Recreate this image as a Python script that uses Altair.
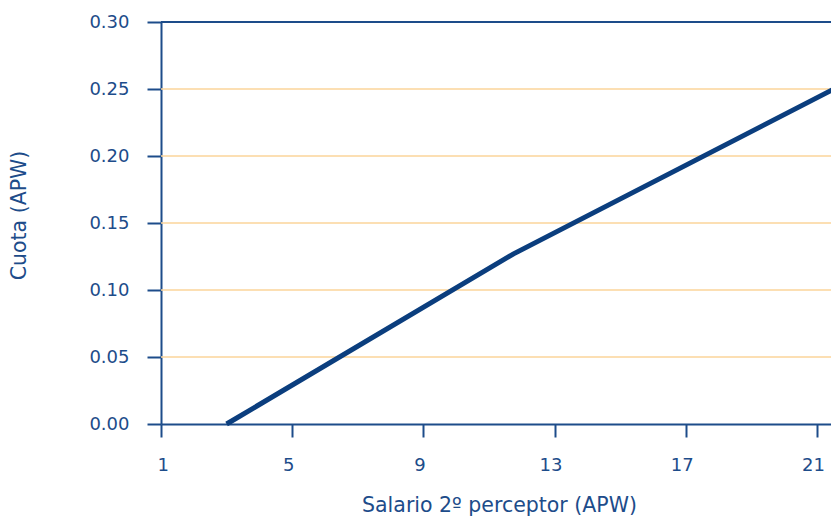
import altair as alt
import pandas as pd

salario = [3.0, 11.75, 21.6]
cuota = [0.0, 0.127, 0.251]

x_ticks = [1, 5, 9, 13, 17, 21]
y_ticks = [0.0, 0.05, 0.10, 0.15, 0.20, 0.25, 0.30]
grid_vals = [0.05, 0.10, 0.15, 0.20, 0.25]

BLUE = "#1d4c8a"
LINE = "#0b3e7e"
GRID = "#fbd49a"
FONT = "DejaVu Sans"

df = pd.DataFrame({"x": salario, "y": cuota})
grid_df = pd.DataFrame({"g": grid_vals})
top_df = pd.DataFrame({"g": [0.30]})

xscale = alt.Scale(domain=[1, 21.43], nice=False, zero=False)
yscale = alt.Scale(domain=[0, 0.30], nice=False)

yaxis = alt.Axis(values=y_ticks, title="Cuota (APW)", grid=False,
                 tickSize=14, labelPadding=18, format=".2f",
                 titleX=-142, titleY=193, titleAngle=270,
                 titleAlign="center", titleBaseline="middle")

grid = alt.Chart(grid_df).mark_rule(color=GRID, strokeWidth=1.5).encode(
    y=alt.Y("g:Q", scale=yscale, axis=yaxis)
)
top = alt.Chart(top_df).mark_rule(color=BLUE, strokeWidth=2).encode(
    y=alt.Y("g:Q", scale=yscale, axis=yaxis)
)

line = alt.Chart(df).mark_line(color=LINE, strokeWidth=5).encode(
    x=alt.X("x:Q", scale=xscale,
            axis=alt.Axis(values=x_ticks, title="Salario 2º perceptor (APW)",
                          grid=False, tickSize=13, labelPadding=19,
                          labelOffset=-4, format="d",
                          titleX=338, titleY=87, titleAlign="center",
                          titleBaseline="alphabetic")),
    y=alt.Y("y:Q", scale=yscale, axis=yaxis)
)

chart = alt.layer(grid, top, line).properties(
    width=670, height=402,
    autosize=alt.AutoSizeParams(type="none"),
    padding={"left": 153, "top": 14, "right": 0, "bottom": 92},
).configure_view(stroke=None).configure_axis(
    domainColor=BLUE, domainWidth=2, tickColor=BLUE, tickWidth=2,
    labelColor=BLUE, titleColor=BLUE, labelFont=FONT, titleFont=FONT,
    labelFontSize=18, titleFontSize=20.5, titleFontWeight="normal",
)

chart.save("out.html", embed_options={"renderer": "svg", "actions": False})
